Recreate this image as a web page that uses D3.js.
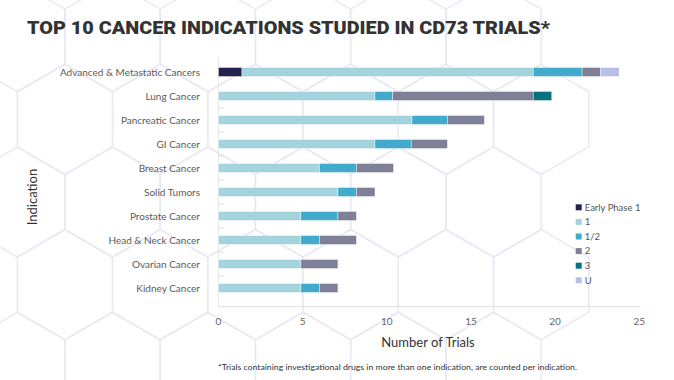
<!DOCTYPE html>
<meta charset="utf-8">
<style>
body { margin: 0; background: #fff; }
text { font-family: Lato, "Open Sans", sans-serif; }
.hex { fill: none; stroke: #e9e9f6; stroke-width: 1.5px; }
</style>
<body>
<script src="https://d3js.org/d3.v7.min.js"></script>
<script>

// categories, top to bottom
var indications = ["Advanced & Metastatic Cancers", "Lung Cancer", "Pancreatic Cancer", "GI Cancer",
  "Breast Cancer", "Solid Tumors", "Prostate Cancer", "Head & Neck Cancer", "Ovarian Cancer", "Kidney Cancer"];

// phases (stack order) and their values
var phases = ["Early Phase 1", "1", "1/2", "2", "3", "U"];
var earlyPhase1 = [1.4, 0, 0, 0, 0, 0, 0, 0, 0, 0];
var phase1      = [17.3, 9.3, 11.5, 9.3, 6.0, 7.1, 4.9, 4.9, 4.9, 4.9];
var phase1_2    = [2.9, 1.05, 2.1, 2.15, 2.2, 1.1, 2.2, 1.1, 0, 1.1];
var phase2      = [1.1, 8.35, 2.2, 2.15, 2.2, 1.1, 1.1, 2.2, 2.2, 1.1];
var phase3      = [0, 1.1, 0, 0, 0, 0, 0, 0, 0, 0];
var phaseU      = [1.1, 0, 0, 0, 0, 0, 0, 0, 0, 0];
var xTicks = [0, 5, 10, 15, 20, 25];

var colors = ["#25214f", "#a3d4de", "#42abcc", "#7f8097", "#04737d", "#b9bee4"];

var width = 674, height = 380;

var svg = d3.select("body").append("svg")
    .attr("width", width)
    .attr("height", height);

// faint honeycomb in the background
var R = 55, hw = R * Math.sqrt(3) / 2;
var hexCenters = [];
[36.6, 119.3, 202, 284.7, 367.4].forEach(function(cy, r) {
  var off = (r % 2 === 0) ? 112.5 - 2 * hw : 112.5 - hw;
  for (var cx = off; cx < 545; cx += 2 * hw) hexCenters.push([cx, cy]);
});
svg.append("g").selectAll("path")
  .data(hexCenters)
  .enter().append("path")
    .attr("class", "hex")
    .attr("d", function(c) {
      var pts = d3.range(6).map(function(i) {
        var a = Math.PI / 3 * i - Math.PI / 2;
        return [c[0] + R * Math.cos(a), c[1] + R * Math.sin(a)];
      });
      return "M" + pts.join("L") + "Z";
    });

// scales
var x = d3.scaleLinear().domain([0, 25]).range([218.4, 639.3]);
var y = d3.scaleBand().domain(indications).range([60, 300])
    .paddingInner(0.625).paddingOuter(0.3125);

// build table for the stack
var table = indications.map(function(name, i) {
  return {name: name, "Early Phase 1": earlyPhase1[i], "1": phase1[i], "1/2": phase1_2[i],
          "2": phase2[i], "3": phase3[i], "U": phaseU[i]};
});
var stacked = d3.stack().keys(phases)(table);

// title
svg.append("text")
    .attr("x", 27).attr("y", 34)
    .attr("textLength", 523).attr("lengthAdjust", "spacingAndGlyphs")
    .style("font-family", "Roboto, sans-serif")
    .style("font-weight", 900)
    .style("font-size", "19px")
    .style("fill", "#333")
    .text("TOP 10 CANCER INDICATIONS STUDIED IN CD73 TRIALS*");

// axis lines
svg.append("line")
    .attr("x1", x(0)).attr("x2", x(0)).attr("y1", 58).attr("y2", 307)
    .style("stroke", "#e6e6ea");
svg.append("line")
    .attr("x1", x(0)).attr("x2", x(25)).attr("y1", 306.7).attr("y2", 306.7)
    .style("stroke", "#e3e3e8").style("stroke-width", 1.2);

// small inner ticks between categories
svg.append("g").selectAll("line")
  .data(indications.slice(2))
  .enter().append("line")
    .attr("x1", x(0)).attr("x2", x(0) + 6)
    .attr("y1", function(d) { return y(d) - y.step() * y.paddingInner() / 2; })
    .attr("y2", function(d) { return y(d) - y.step() * y.paddingInner() / 2; })
    .style("stroke", "#dedee4");

// bars
svg.append("g").selectAll("g")
  .data(stacked)
  .enter().append("g")
    .style("fill", function(d, i) { return colors[i]; })
  .selectAll("rect")
  .data(function(d) { return d; })
  .enter().append("rect")
    .attr("x", function(d) { return x(d[0]); })
    .attr("y", function(d) { return y(d.data.name); })
    .attr("width", function(d) { return x(d[1]) - x(d[0]); })
    .attr("height", y.bandwidth())
    .style("stroke", "#fff").style("stroke-width", 0.4);

// category labels
svg.append("g").selectAll("text")
  .data(indications)
  .enter().append("text")
    .attr("x", 200)
    .attr("y", function(d) { return y(d) + y.bandwidth() / 2; })
    .attr("dy", "0.35em")
    .attr("text-anchor", "end")
    .style("font-size", "10px")
    .style("fill", "#5a5a5a")
    .text(function(d) { return d; });

// x tick labels
svg.append("g").selectAll("text")
  .data(xTicks)
  .enter().append("text")
    .attr("x", function(d) { return x(d); })
    .attr("y", 321)
    .attr("dy", "0.35em")
    .attr("text-anchor", "middle")
    .style("font-size", "10px")
    .style("fill", "#666")
    .text(function(d) { return d; });

// axis titles
svg.append("text")
    .attr("x", 428).attr("y", 347)
    .attr("text-anchor", "middle")
    .style("font-size", "13px")
    .style("fill", "#333")
    .text("Number of Trials");

svg.append("text")
    .attr("transform", "translate(37,197) rotate(-90)")
    .attr("text-anchor", "middle")
    .style("font-size", "13px")
    .style("fill", "#333")
    .text("Indication");

// footnote
svg.append("text")
    .attr("x", 218).attr("y", 369.5)
    .attr("textLength", 359).attr("lengthAdjust", "spacingAndGlyphs")
    .style("font-size", "8px")
    .style("fill", "#333")
    .text("*Trials containing investigational drugs in more than one indication, are counted per indication.");

// legend
var legend = svg.append("g").selectAll("g")
  .data(phases)
  .enter().append("g")
    .attr("transform", function(d, i) { return "translate(575.7," + (207.3 + i * 14.6) + ")"; });
legend.append("rect")
    .attr("x", 0).attr("y", -3).attr("width", 6).attr("height", 6)
    .style("fill", function(d, i) { return colors[i]; });
legend.append("text")
    .attr("x", 9).attr("dy", "0.35em")
    .style("font-size", "9.5px")
    .style("fill", "#555")
    .text(function(d) { return d; });

</script>
</body>
